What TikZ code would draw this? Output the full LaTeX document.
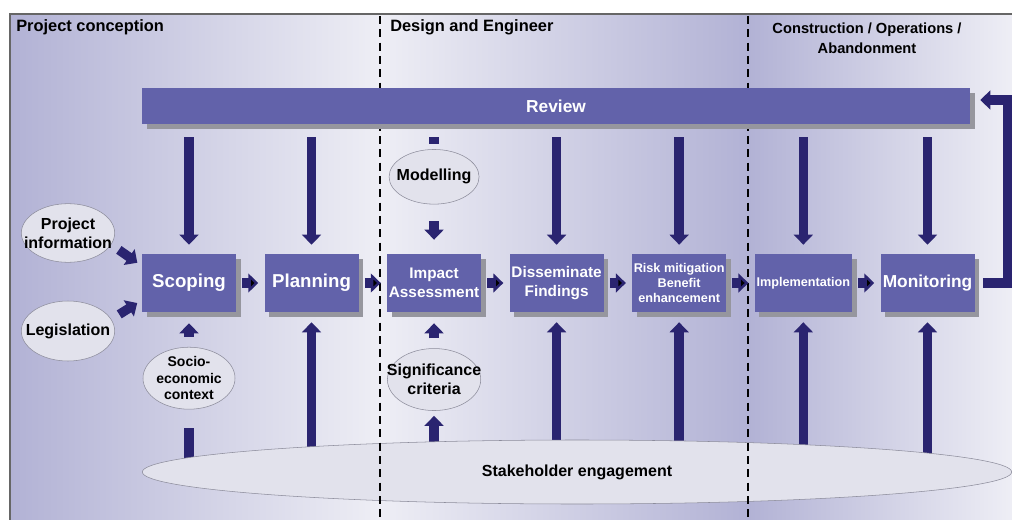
\documentclass[tikz,border=0pt]{standalone}
\usepackage{fontspec}
\setmainfont{Liberation Sans}
\usepackage{xcolor}
\usepackage{tikz}
\usetikzlibrary{arrows.meta, shapes.geometric, positioning, shadows}

\definecolor{boxblue}{RGB}{98,98,170}
\definecolor{navy}{RGB}{42,36,112}
\definecolor{bgdark}{RGB}{178,178,213}
\definecolor{bglight}{RGB}{238,238,245}
\definecolor{ellfill}{RGB}{226,226,236}
\definecolor{ellline}{RGB}{140,140,155}
\definecolor{shadowgray}{RGB}{150,150,158}

\pgfdeclarelayer{bg}
\pgfdeclarelayer{back}
\pgfsetlayers{bg,back,main}

\begin{document}
\begin{tikzpicture}[
    x=0.75pt, y=-0.75pt,
    node distance=21pt,
    stage/.style={rectangle, fill=boxblue, text=white, align=center,
        minimum width=70.5pt, minimum height=43.5pt, inner sep=1pt,
        drop shadow={shadow xshift=3.5pt, shadow yshift=-3.5pt, fill=shadowgray, opacity=1}},
    input/.style={ellipse, fill=ellfill, draw=ellline, inner sep=0pt,
        minimum width=70pt, minimum height=44pt},
    caption/.style={text=black, align=center, font=\fontsize{12}{14}\selectfont\bfseries},
    heading/.style={font=\fontsize{12.3}{15}\selectfont\bfseries, align=center, inner sep=0pt},
    flow/.style={draw=navy, line width=7pt, -{Triangle[length=7.5pt, width=14pt]}},
    stub/.style={draw=navy, line width=7pt}
]
    \useasboundingbox (0,0) rectangle (1012,520);

    % Phase panels
    \begin{pgfonlayer}{bg}
        \shade[left color=bgdark, right color=bglight] (10,14) rectangle (380,520);
        \shade[left color=bglight, right color=bgdark] (380,14) rectangle (748,520);
        \shade[left color=bgdark, right color=bglight] (748,14) rectangle (1012,520);
        \draw[gray!80!black, line width=1.5pt] (10,520) -- (10,14) -- (1012,14);
    \end{pgfonlayer}

    \node[heading, anchor=base west] (conception) at (16,32) {Project conception};
    \node[heading, anchor=base west] (design) at (390,32) {Design and Engineer};
    \node[heading, font=\fontsize{11}{15}\selectfont\bfseries] (construction) at (867,38) {Construction / Operations /\\Abandonment};

    % Stakeholder engagement
    \node[input, minimum width=652pt, minimum height=48pt,
        label={[caption]center:Stakeholder engagement}] (stake) at (577,472) {};

    \draw[black, line width=1.5pt, dash pattern=on 6pt off 4pt] (380,16) -- (380,520);
    \draw[black, line width=1.5pt, dash pattern=on 6pt off 4pt] (748,16) -- (748,520);

    % Review
    \node[stage, minimum width=621pt, minimum height=27pt,
        font=\fontsize{13}{15}\selectfont\bfseries] (review) at (556,106) {Review};

    % Stages
    \node[stage, font=\fontsize{14}{16}\selectfont\bfseries] (scoping) at (189,283) {Scoping};
    \node[stage, right=of scoping, font=\fontsize{14}{16}\selectfont\bfseries] (planning) {Planning};
    \node[stage, right=of planning, font=\fontsize{11.5}{14}\selectfont\bfseries] (impact) {Impact\\Assessment};
    \node[stage, right=of impact, font=\fontsize{11.5}{14}\selectfont\bfseries] (findings) {Disseminate\\Findings};
    \node[stage, right=of findings, font=\fontsize{9.5}{11.5}\selectfont\bfseries] (risk) {Risk mitigation\\Benefit\\enhancement};
    \node[stage, right=of risk, minimum width=73pt, font=\fontsize{9.5}{11.5}\selectfont\bfseries] (implementation) {Implementation};
    \node[stage, right=of implementation, font=\fontsize{13}{15}\selectfont\bfseries] (monitoring) {Monitoring};

    % Inputs
    \node[input, label={[caption]center:Project\\information}] (projinfo) at (68,233) {};
    \node[input, minimum height=45pt, label={[caption]center:Legislation}] (legislation) at (68,331) {};
    \node[input, below=26pt of scoping, minimum width=69pt, minimum height=46.5pt,
        label={[caption, font=\fontsize{10.5}{12.5}\selectfont\bfseries]center:Socio-\\economic\\context}] (socio) {};
    \node[input, above=37pt of impact, minimum width=67.5pt, minimum height=41pt,
        label={[caption]center:Modelling}] (modelling) {};
    \node[input, below=27pt of impact, minimum height=46.5pt,
        label={[caption]center:Significance\\criteria}] (criteria) {};

    % Review feeds the stages
    \foreach \s in {scoping, planning, findings, risk, implementation, monitoring}
        \draw[flow, shorten <=9.75pt, shorten >=6.75pt] (\s |- review.south) -- (\s.north);
    \draw[stub, shorten <=9.75pt, shorten >=3.75pt] (modelling |- review.south) -- (modelling.north);
    \draw[flow, shorten <=12.75pt, shorten >=10.5pt] (modelling.south) -- (impact.north);

    % Main sequence
    \path[flow, shorten <=4.5pt, shorten >=4.5pt]
        (scoping) edge (planning)
        (planning) edge (impact)
        (impact) edge (findings)
        (findings) edge (risk)
        (risk) edge (implementation)
        (implementation) edge (monitoring);
    \draw[flow, shorten <=6pt, shorten >=7.5pt] (monitoring.east) -- ++(33,0) |- ([yshift=4.5pt]review.east);

    \draw[flow, shorten <=7pt, shorten >=4pt] (projinfo.-15) -- (scoping.160);
    \draw[flow, shorten <=7pt, shorten >=4pt] (legislation.15) -- (scoping.200);
    \draw[flow, shorten <=7.5pt, shorten >=8.25pt] (socio.north) -- (scoping.south);
    \draw[flow, shorten <=7.5pt, shorten >=8.25pt] (criteria.north) -- (impact.south);

    % Engagement arrows, behind the ellipse
    \begin{pgfonlayer}{back}
        \foreach \s in {planning, findings, risk, implementation, monitoring}
            \draw[flow, shorten >=7.5pt] (\s |- stake.center) -- (\s.south);
        \draw[flow, shorten >=3.75pt] (criteria |- stake.center) -- (criteria.south);
        \draw[stub, shorten >=14pt] (socio |- stake.center) -- (socio.south);
    \end{pgfonlayer}
\end{tikzpicture}
\end{document}
